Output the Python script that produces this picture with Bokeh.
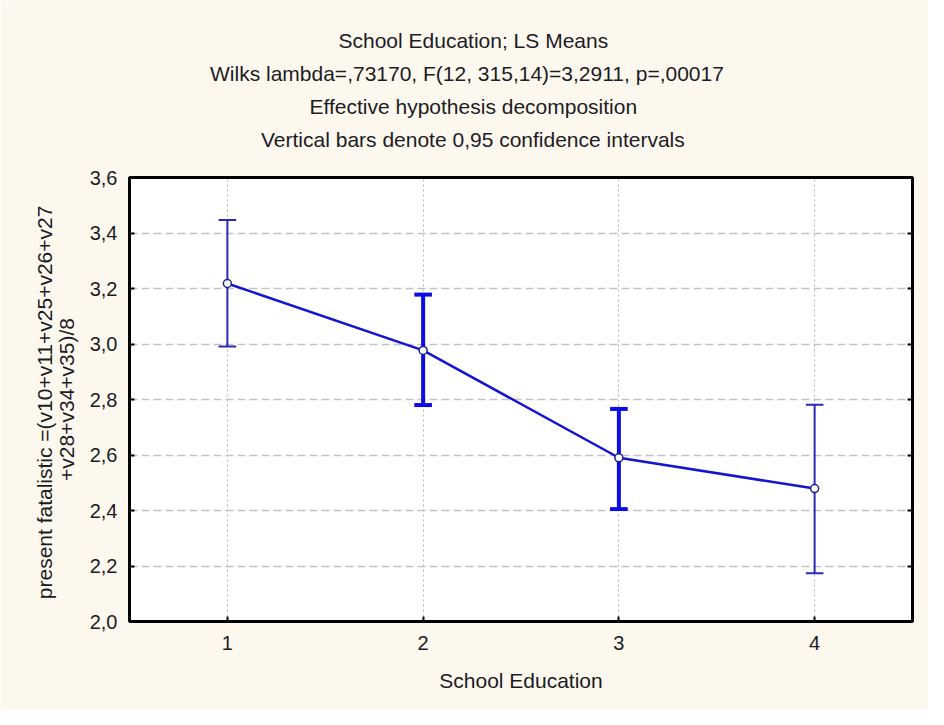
from bokeh.plotting import figure
from bokeh.models import (ColumnDataSource, Title, FixedTicker, CustomJSTickFormatter,
                          LinearAxis)
from bokeh.embed import file_html
from bokeh.resources import INLINE

# ---- data ----
titles = [
    "School Education; LS Means",
    "Wilks lambda=,73170, F(12,  315,14)=3,2911, p=,00017",
    "Effective hypothesis decomposition",
    "Vertical bars denote 0,95 confidence intervals",
]
x_label = "School Education"
y_label = "present fatalistic  =(v10+v11+v25+v26+v27\n+v28+v34+v35)/8"
education = [1, 2, 3, 4]
ls_means = [3.218, 2.977, 2.590, 2.479]
ci_upper = [3.447, 3.178, 2.766, 2.781]
ci_lower = [2.991, 2.780, 2.405, 2.174]
x_ticks = [1, 2, 3, 4]
y_ticks = [2.0, 2.2, 2.4, 2.6, 2.8, 3.0, 3.2, 3.4, 3.6]

# ---- styles ----
FONT = "Liberation Sans"
TEXT = "#1c1c24"
W, H = 928, 709
BL, BR, BT, BB = 129, 16, 177, 88
bar_widths = [2, 4, 4, 2]
bar_colors = ["#2a2ab4", "#0c0ce6", "#0c0ce6", "#2a2ab4"]
cap_half = 0.045
title_center_x = 473          # canvas px where the title lines are centred
title_widths = [270, 527, 328, 425]   # approx. rendered widths at 21px (for centring)

src = ColumnDataSource(dict(
    x=education, m=ls_means, up=ci_upper, lo=ci_lower,
    x0=[v - cap_half for v in education], x1=[v + cap_half for v in education],
    lw=bar_widths, col=bar_colors,
))

p = figure(width=W, height=H, x_range=(0.5, 4.5), y_range=(2.0, 3.6),
           output_backend="svg", toolbar_location=None, title=None,
           min_border_left=BL, min_border_right=BR, min_border_top=BT, min_border_bottom=BB)

p.background_fill_color = "white"
p.border_fill_color = "#fcf8ee"
p.outline_line_color = "black"
p.outline_line_width = 3

bottom_ax = p.below[0]
left_ax = p.left[0]

# titles: innermost first (nearest the frame); the innermost gets an extra blank line as a gap
for i, (t, w) in enumerate(reversed(list(zip(titles, title_widths)))):
    txt = t + "\n" if i == 0 else t
    p.add_layout(Title(text=txt, align="left", offset=title_center_x - BL - w / 2,
                       text_font=FONT, text_font_size="21px", text_font_style="normal",
                       text_color=TEXT, text_line_height=1.0, standoff=8), "above")

# grids
p.ygrid.grid_line_color = "#c4c4c4"
p.ygrid.grid_line_dash = "8 4"
p.ygrid.grid_line_width = 1.5
p.xgrid.grid_line_color = "#b4b4b4"
p.xgrid.grid_line_dash = "2 3"
p.xgrid.grid_line_width = 1

# inward ticks on the right border (no labels drawn)
right_axis = LinearAxis(ticker=FixedTicker(ticks=y_ticks), major_label_text_color=None,
                        axis_line_color=None, major_tick_in=5, major_tick_out=0,
                        major_tick_line_color="black", major_tick_line_width=2,
                        minor_tick_line_color=None, major_label_standoff=0)
p.add_layout(right_axis, "right")

# axes
bottom_ax.ticker = FixedTicker(ticks=x_ticks)
left_ax.ticker = FixedTicker(ticks=y_ticks)
left_ax.formatter = CustomJSTickFormatter(code="return tick.toFixed(1).replace('.', ',');")
for ax in (bottom_ax, left_ax):
    ax.axis_line_color = None
    ax.major_tick_in = 5
    ax.major_tick_out = 0
    ax.major_tick_line_color = "black"
    ax.major_tick_line_width = 2
    ax.minor_tick_line_color = None
    ax.major_label_text_font = FONT
    ax.major_label_text_font_size = "20px"
    ax.major_label_text_color = TEXT
    ax.axis_label_text_font = FONT
    ax.axis_label_text_font_size = "21px"
    ax.axis_label_text_font_style = "normal"
    ax.axis_label_text_color = TEXT
bottom_ax.axis_label = x_label
left_ax.axis_label = y_label
left_ax.axis_label_text_line_height = 0.95
bottom_ax.major_label_standoff = 14
bottom_ax.axis_label_standoff = 16
left_ax.major_label_standoff = 12
left_ax.axis_label_standoff = 9

# error bars
p.segment(x0="x", y0="lo", x1="x", y1="up", source=src, line_width="lw", line_color="col")
p.segment(x0="x0", y0="up", x1="x1", y1="up", source=src, line_width="lw", line_color="col")
p.segment(x0="x0", y0="lo", x1="x1", y1="lo", source=src, line_width="lw", line_color="col")

# mean line and markers
p.line(x="x", y="m", source=src, line_color="#1414d2", line_width=2.5)
p.scatter(x="x", y="m", source=src, marker="circle", size=8,
          fill_color="white", line_color="#1e1e8c", line_width=1.5)

open("out.html", "w").write(file_html(p, INLINE))
